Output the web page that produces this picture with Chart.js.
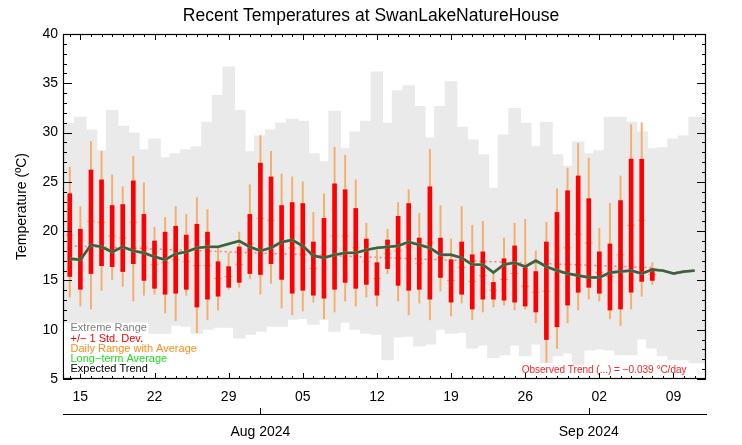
<!DOCTYPE html>
<html>
<head>
<meta charset="utf-8">
<script src="https://cdn.jsdelivr.net/npm/chart.js@4.4.1/dist/chart.umd.min.js"></script>
<style>
  html, body { margin: 0; padding: 0; background: #fff; }
</style>
</head>
<body>
<canvas id="grafico" width="742" height="445"></canvas>
<script>
// days counted from 1 Jul 2024 (0 = Jul 1, 31 = Aug 1, 62 = Sep 1)
var extremeDay0 = 12;
var extremeMax = [30.9, 30.9, 31.5, 30.2, 28.1, 32.2, 30.6, 29.9, 28.2, 29.3,
    27.4, 27.8, 28.2, 28.5, 31.0, 33.7, 36.6, 32.2, 28.0, 29.6,
    30.2, 30.9, 31.3, 31.1, 27.8, 27.0, 32.1, 28.3, 30.0, 31.1,
    36.1, 30.9, 34.2, 34.7, 32.6, 29.4, 32.6, 35.1, 30.5, 29.2,
    27.7, 24.3, 29.7, 32.4, 30.9, 28.5, 31.0, 27.7, 26.5, 29.0,
    27.8, 28.1, 31.5, 31.5, 31.0, 30.0, 28.3, 28.4, 29.3, 29.6,
    31.5, 31.5];
var extremeMin = [10.5, 10.5, 10.5, 10.5, 10.5, 10.5, 10.5, 10.5, 10.4, 9.7,
    9.7, 10.5, 10.4, 9.7, 10.1, 10.3, 10.3, 9.2, 9.6, 9.9,
    10.4, 10.4, 11.1, 11.2, 10.6, 11.1, 9.9, 10.8, 10.1, 9.7,
    9.6, 7.0, 9.3, 9.4, 8.4, 8.6, 10.1, 9.7, 9.8, 8.2,
    8.5, 7.2, 7.5, 8.5, 7.4, 8.6, 6.7, 7.4, 7.7, 6.5,
    8.0, 8.1, 8.0, 7.5, 7.5, 9.1, 8.2, 7.4, 7.0, 7.0,
    6.7, 6.7];

var dailyDay0 = 13;
var dailyMax = [26.5, 22.5, 29.1, 28.1, 25.7, 24.5, 27.6, 24.9, 20.4, 21.4,
    22.5, 21.7, 23.4, 22.2, 18.4, 17.8, 19.9, 24.7, 29.7, 28.1,
    25.8, 25.5, 25.0, 21.9, 23.8, 28.5, 27.7, 25.2, 20.8, 18.1,
    20.2, 22.9, 24.2, 21.8, 28.3, 22.6, 19.2, 22.5, 20.6, 21.0,
    15.8, 19.3, 20.8, 21.2, 18.0, 20.9, 24.3, 26.4, 28.9, 27.4,
    20.3, 22.8, 25.6, 30.8, 31.0, 16.8];
var sdHigh = [23.8, 20.2, 26.2, 25.2, 22.6, 22.7, 25.1, 21.7, 19.0, 19.9,
    20.5, 19.6, 20.7, 19.9, 16.9, 16.4, 18.4, 21.7, 26.9, 25.5,
    22.6, 22.9, 22.8, 18.9, 21.3, 24.8, 24.2, 22.3, 19.2, 16.8,
    19.1, 21.5, 22.8, 19.3, 24.5, 19.3, 17.1, 18.9, 17.6, 17.9,
    14.8, 17.2, 18.5, 16.4, 15.9, 18.9, 21.9, 24.1, 25.6, 23.3,
    17.9, 18.7, 23.1, 27.3, 27.3, 16.2];
var dailyAvg = [19.6, 17.2, 21.0, 20.9, 19.5, 19.3, 20.9, 18.4, 16.6, 16.8,
    17.1, 16.9, 16.5, 16.5, 15.2, 15.4, 16.6, 18.7, 21.3, 21.1,
    18.9, 18.3, 18.4, 16.2, 17.3, 19.5, 19.5, 18.3, 16.9, 15.2,
    17.7, 18.0, 18.4, 16.7, 18.8, 17.3, 15.0, 16.3, 14.9, 15.5,
    14.0, 15.1, 15.7, 14.4, 13.8, 13.9, 16.1, 18.3, 19.7, 18.8,
    15.8, 15.4, 17.6, 20.6, 21.1, 15.6];
var sdLow = [15.4, 14.1, 15.7, 16.5, 16.4, 15.9, 16.7, 15.0, 14.2, 13.6,
    13.7, 14.1, 12.3, 13.1, 13.4, 14.3, 14.8, 15.7, 15.6, 16.7,
    15.1, 13.7, 14.0, 13.5, 13.2, 14.1, 14.8, 14.2, 14.6, 13.5,
    16.2, 14.5, 14.0, 14.1, 13.1, 15.3, 12.8, 13.6, 12.1, 13.1,
    13.1, 13.0, 12.8, 12.4, 11.8, 9.0, 10.3, 12.5, 13.8, 14.3,
    13.7, 12.0, 12.1, 13.8, 14.9, 15.0];
var dailyMin = [13.3, 12.4, 12.1, 14.0, 15.1, 14.4, 12.9, 13.5, 13.6, 11.7,
    10.9, 13.5, 9.7, 11.0, 12.0, 14.1, 14.3, 15.2, 13.6, 14.7,
    12.2, 11.5, 11.9, 12.8, 11.1, 11.8, 12.9, 12.4, 13.3, 12.4,
    15.7, 12.9, 11.5, 12.7, 11.0, 13.9, 11.4, 12.7, 11.0, 11.8,
    12.3, 12.5, 12.0, 12.1, 10.7, 6.7, 8.1, 10.7, 12.0, 13.1,
    12.9, 11.1, 10.4, 12.1, 13.4, 14.6];

var normalDay0 = 13;
var longTermAvg = [17.2, 17.1, 18.6, 18.4, 17.9, 18.4, 18.0, 17.8, 17.4, 17.1,
    17.7, 17.9, 18.3, 18.4, 18.4, 18.7, 19.0, 18.4, 18.0, 18.3,
    18.9, 19.1, 18.5, 17.5, 17.3, 17.6, 17.8, 17.8, 18.1, 18.3,
    18.4, 18.5, 18.9, 18.6, 18.3, 17.6, 17.6, 17.3, 16.6, 16.6,
    15.8, 16.6, 16.8, 16.4, 17.0, 16.4, 16.0, 15.7, 15.5, 15.3,
    15.3, 15.8, 15.9, 16.0, 15.7, 16.1, 16.0, 15.7, 15.9, 16.0];

var trendDays = [13, 68];
var trendValues = [18.5, 16.3];

var weekTicks = [14, 21, 28, 35, 42, 49, 56, 63, 70];
var weekLabels = ['15', '22', '29', '05', '12', '19', '26', '02', '09'];
var monthTicks = [31, 62];
var monthLabels = ['Aug 2024', 'Sep 2024'];

var legendItems = [
    ['Extreme Range', '#808080'],
    ['+/\u2212 1 Std. Dev.', '#ff0000'],
    ['Daily Range with Average', '#ff8c1a'],
    ['Long\u2212term Average', '#22e022'],
    ['Expected Trend', '#000000']
];
var trendText = 'Observed Trend (...) = \u22120.039 \u00b0C/day';

function ranges(day0, lo, hi) {
    var out = [];
    for (var i = 0; i < lo.length; i++) {
        out.push({ x: day0 + i, y: [lo[i], hi[i]] });
    }
    return out;
}
function points(day0, vals) {
    var out = [];
    for (var i = 0; i < vals.length; i++) {
        out.push({ x: day0 + i, y: vals[i] });
    }
    return out;
}
function pairs(xs, ys) {
    return xs.map(function (x, i) { return { x: x, y: ys[i] }; });
}

var fonte = '"Liberation Sans", Arial, sans-serif';
Chart.defaults.font.family = fonte;
Chart.defaults.color = '#000';

var moldura = {
    id: 'moldura',
    afterDraw: function (chart) {
        var ctx = chart.ctx, a = chart.chartArea;
        var sx = chart.scales.x, sy = chart.scales.y, sx2 = chart.scales.x2;
        ctx.save();
        ctx.strokeStyle = '#000';
        ctx.lineWidth = 1.2;
        ctx.strokeRect(a.left + 0.5, a.top + 0.5, a.right - a.left - 1, a.bottom - a.top - 1);
        ctx.lineWidth = 1;
        ctx.beginPath();
        for (var d = Math.ceil(sx.min); d <= sx.max; d++) {
            var px = Math.round(sx.getPixelForValue(d)) + 0.5;
            var len = weekTicks.indexOf(d) >= 0 ? 6 : 3;
            ctx.moveTo(px, a.bottom);
            ctx.lineTo(px, a.bottom - len);
            ctx.moveTo(px, a.top);
            ctx.lineTo(px, a.top + len);
        }
        for (var t = sy.min; t <= sy.max; t++) {
            var py = Math.round(sy.getPixelForValue(t)) + 0.5;
            var l2 = t % 5 === 0 ? 9 : 4;
            ctx.moveTo(a.left, py);
            ctx.lineTo(a.left + l2, py);
            ctx.moveTo(a.right, py);
            ctx.lineTo(a.right - l2, py);
        }
        monthTicks.forEach(function (m) {
            var mx = Math.round(sx2.getPixelForValue(m)) + 0.5;
            ctx.moveTo(mx, sx2.top);
            ctx.lineTo(mx, sx2.top - 6);
        });
        ctx.stroke();

        // legenda
        ctx.font = '11px ' + fonte;
        ctx.textBaseline = 'middle';
        ctx.textAlign = 'left';
        legendItems.forEach(function (item, i) {
            var yc = a.bottom - 50.7 + i * 10.2;
            var w = ctx.measureText(item[0]).width;
            ctx.fillStyle = '#fff';
            ctx.fillRect(a.left + 1, yc - 5.6, w + 8, 10.3);
        });
        legendItems.forEach(function (item, i) {
            var yc = a.bottom - 50.7 + i * 10.2;
            ctx.fillStyle = item[1];
            ctx.fillText(item[0], a.left + 7.5, yc);
        });

        ctx.font = '10px ' + fonte;
        ctx.fillStyle = '#ff2020';
        ctx.textAlign = 'right';
        ctx.fillText(trendText, a.right - 19.5, a.bottom - 8.3);
        ctx.restore();
    }
};

new Chart(document.getElementById('grafico'), {
    type: 'bar',
    data: {
        datasets: [
            {
                type: 'bar',
                data: ranges(extremeDay0, extremeMin, extremeMax),
                backgroundColor: '#eaeaea',
                barPercentage: 1,
                categoryPercentage: 1,
                inflateAmount: 1,
                grouped: false,
                clip: 0,
                order: 10
            },
            {
                type: 'line',
                data: pairs(trendDays, trendValues),
                borderColor: '#f08080',
                borderWidth: 1.5,
                borderDash: [2, 3],
                pointRadius: 0,
                order: 8
            },
            {
                type: 'bar',
                data: ranges(dailyDay0, dailyMin, dailyMax),
                backgroundColor: '#f7ad6c',
                barThickness: 1.3,
                grouped: false,
                order: 7
            },
            {
                type: 'line',
                data: points(dailyDay0, dailyAvg),
                showLine: false,
                pointStyle: 'line',
                pointRadius: 4,
                borderColor: '#f5a05a',
                borderWidth: 1,
                order: 6
            },
            {
                type: 'bar',
                data: ranges(dailyDay0, sdLow, sdHigh),
                backgroundColor: '#ff0000',
                barThickness: 4,
                grouped: false,
                order: 5
            },
            {
                type: 'line',
                data: points(normalDay0, longTermAvg),
                borderColor: '#22e022',
                borderWidth: 2.8,
                pointRadius: 0,
                order: 2
            },
            {
                type: 'line',
                data: points(normalDay0, longTermAvg),
                borderColor: '#525252',
                borderWidth: 2.4,
                pointRadius: 0,
                order: 1
            }
        ]
    },
    options: {
        responsive: false,
        animation: false,
        events: [],
        devicePixelRatio: 1,
        layout: { padding: { top: 0, right: 0, left: 0, bottom: 0 } },
        plugins: {
            legend: { display: false },
            tooltip: { enabled: false },
            title: {
                display: true,
                text: 'Recent Temperatures at SwanLakeNatureHouse',
                font: { size: 17.5, weight: 'normal' },
                color: '#000',
                padding: { top: 6, bottom: 7 }
            }
        },
        scales: {
            x: {
                type: 'linear',
                position: 'bottom',
                min: 12.36,
                max: 73.07,
                offset: false,
                weight: 0,
                grid: { display: false, drawTicks: false },
                border: { display: false },
                afterBuildTicks: function (scale) {
                    scale.ticks = weekTicks.map(function (v) { return { value: v }; });
                },
                afterFit: function (scale) { scale.height = 35; },
                ticks: {
                    autoSkip: false,
                    maxRotation: 0,
                    minRotation: 0,
                    padding: 10,
                    font: { size: 14 },
                    color: '#000',
                    callback: function (value, index) { return weekLabels[index]; }
                }
            },
            x2: {
                type: 'linear',
                position: 'bottom',
                min: 12.36,
                max: 73.07,
                offset: false,
                weight: 1,
                grid: { display: false, drawTicks: false },
                border: { display: true, color: '#000', width: 1 },
                afterBuildTicks: function (scale) {
                    scale.ticks = monthTicks.map(function (v) { return { value: v }; });
                },
                afterFit: function (scale) { scale.height = 31; },
                ticks: {
                    autoSkip: false,
                    maxRotation: 0,
                    minRotation: 0,
                    padding: 10,
                    font: { size: 14 },
                    color: '#000',
                    callback: function (value, index) { return monthLabels[index]; }
                }
            },
            y: {
                min: 5,
                max: 40,
                grid: { display: false, drawTicks: false },
                border: { display: false },
                afterFit: function (scale) { scale.width = 63; },
                ticks: { stepSize: 5, padding: 5, font: { size: 14 }, color: '#000' },
                title: {
                    display: true,
                    text: 'Temperature (\u00baC)',
                    font: { size: 14 },
                    color: '#000',
                    padding: { top: 14, bottom: 0 }
                }
            },
            yR: {
                position: 'right',
                min: 5,
                max: 40,
                grid: { display: false, drawTicks: false },
                border: { display: false },
                ticks: { display: false },
                afterFit: function (scale) { scale.width = 36; }
            }
        }
    },
    plugins: [moldura]
});
</script>
</body>
</html>
